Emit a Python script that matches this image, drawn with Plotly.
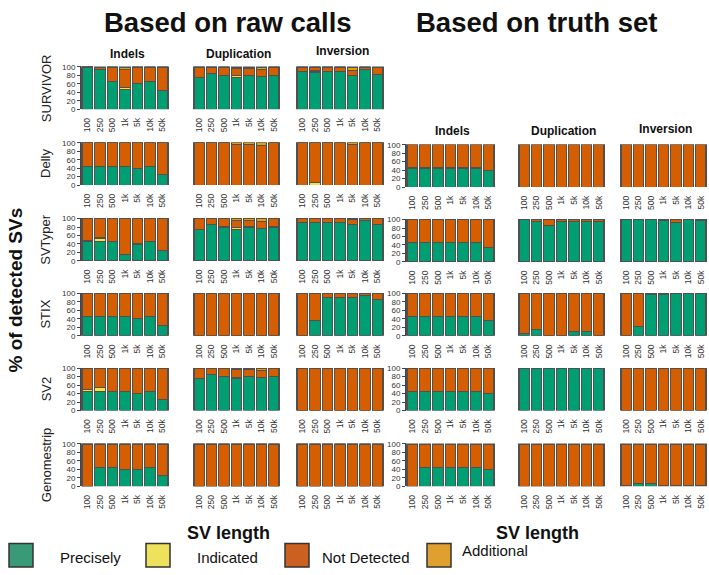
import plotly.graph_objects as go

W, H = 709, 575

lengths = ["100", "250", "500", "1k", "5k", "10k", "50k"]
sv_types = ["Indels", "Duplication", "Inversion"]
raw_callers = ["SURVIVOR", "Delly", "SVTyper", "STIX", "SV2", "Genomestrip"]
truth_callers = ["Delly", "SVTyper", "STIX", "SV2", "Genomestrip"]
categories = ["Precisely", "Indicated", "Not Detected", "Additional"]

# ---- Based on raw calls: [Indels, Duplication, Inversion] per caller (% of SVs)
raw_survivor_precisely = [[100, 93, 65, 47, 60, 65, 45], [75, 85, 80, 75, 80, 77, 80], [90, 88, 90, 90, 80, 95, 82]]
raw_survivor_indicated = [[0, 0, 0, 5, 0, 0, 0], [0, 0, 0, 4, 0, 0, 0], [0, 4, 0, 0, 0, 0, 0]]
raw_survivor_notdet = [[0, 5, 35, 43, 40, 35, 55], [25, 15, 20, 18, 17, 17, 20], [10, 8, 10, 10, 12, 5, 16]]
raw_survivor_additional = [[0, 2, 0, 5, 0, 0, 0], [0, 0, 0, 3, 3, 6, 0], [0, 0, 0, 0, 8, 0, 2]]

raw_delly_precisely = [[45, 45, 45, 45, 40, 45, 25], [0, 0, 0, 0, 0, 0, 0], [0, 0, 0, 0, 0, 0, 0]]
raw_delly_indicated = [[0, 0, 0, 0, 0, 0, 0], [0, 0, 0, 0, 0, 0, 0], [0, 6, 0, 0, 0, 0, 0]]
raw_delly_notdet = [[55, 55, 55, 55, 60, 55, 75], [100, 100, 100, 96, 96, 94, 100], [100, 94, 100, 100, 96, 100, 100]]
raw_delly_additional = [[0, 0, 0, 0, 0, 0, 0], [0, 0, 0, 4, 4, 6, 0], [0, 0, 0, 0, 4, 0, 0]]

raw_svtyper_precisely = [[45, 45, 45, 15, 40, 45, 25], [75, 85, 80, 75, 80, 77, 80], [90, 90, 90, 90, 86, 95, 85]]
raw_svtyper_indicated = [[4, 9, 0, 0, 0, 0, 0], [0, 0, 0, 4, 0, 0, 0], [0, 0, 0, 0, 0, 0, 0]]
raw_svtyper_notdet = [[51, 46, 55, 85, 60, 55, 75], [25, 15, 20, 16, 16, 17, 20], [10, 10, 10, 10, 11, 5, 15]]
raw_svtyper_additional = [[0, 0, 0, 0, 0, 0, 0], [0, 0, 0, 5, 4, 6, 0], [0, 0, 0, 0, 3, 0, 0]]

raw_stix_precisely = [[45, 45, 45, 45, 40, 45, 25], [0, 0, 0, 0, 0, 0, 0], [0, 35, 90, 90, 90, 95, 85]]
raw_stix_indicated = [[0, 0, 0, 0, 0, 0, 0], [0, 0, 0, 0, 0, 0, 0], [0, 0, 0, 0, 0, 0, 0]]
raw_stix_notdet = [[55, 55, 55, 55, 60, 55, 75], [100, 100, 100, 100, 100, 100, 100], [100, 65, 10, 10, 10, 5, 15]]
raw_stix_additional = [[0, 0, 0, 0, 0, 0, 0], [0, 0, 0, 0, 0, 0, 0], [0, 0, 0, 0, 0, 0, 0]]

raw_sv2_precisely = [[45, 45, 45, 45, 40, 45, 25], [75, 85, 80, 75, 80, 77, 80], [0, 0, 0, 0, 0, 0, 0]]
raw_sv2_indicated = [[4, 9, 0, 0, 0, 0, 0], [0, 0, 0, 4, 0, 0, 0], [0, 0, 0, 0, 0, 0, 0]]
raw_sv2_notdet = [[51, 46, 55, 55, 60, 55, 75], [25, 15, 20, 17, 16, 17, 20], [100, 100, 100, 100, 100, 100, 100]]
raw_sv2_additional = [[0, 0, 0, 0, 0, 0, 0], [0, 0, 0, 4, 4, 6, 0], [0, 0, 0, 0, 0, 0, 0]]

raw_genomestrip_precisely = [[0, 45, 45, 40, 40, 45, 25], [0, 0, 0, 0, 0, 0, 0], [0, 0, 0, 0, 0, 0, 0]]
raw_genomestrip_indicated = [[0, 0, 0, 0, 0, 0, 0], [0, 0, 0, 0, 0, 0, 0], [0, 0, 0, 0, 0, 0, 0]]
raw_genomestrip_notdet = [[100, 55, 55, 60, 60, 55, 75], [100, 100, 100, 100, 100, 100, 100], [100, 100, 100, 100, 100, 100, 100]]
raw_genomestrip_additional = [[0, 0, 0, 0, 0, 0, 0], [0, 0, 0, 0, 0, 0, 0], [0, 0, 0, 0, 0, 0, 0]]

# ---- Based on truth set
truth_delly_precisely = [[45, 45, 45, 45, 45, 45, 40], [0, 0, 0, 0, 0, 0, 0], [0, 0, 0, 0, 0, 0, 0]]
truth_delly_notdet = [[55, 55, 55, 55, 55, 55, 60], [100, 100, 100, 100, 100, 100, 100], [100, 100, 100, 100, 100, 100, 100]]
truth_svtyper_precisely = [[45, 45, 45, 45, 45, 45, 35], [100, 95, 85, 95, 95, 95, 95], [100, 100, 100, 97, 93, 100, 97]]
truth_svtyper_notdet = [[55, 55, 55, 55, 55, 55, 65], [0, 5, 15, 5, 5, 5, 5], [0, 0, 0, 3, 7, 0, 3]]
truth_stix_precisely = [[45, 45, 45, 45, 45, 45, 35], [5, 15, 0, 0, 10, 10, 0], [0, 22, 97, 97, 100, 100, 100]]
truth_stix_notdet = [[55, 55, 55, 55, 55, 55, 65], [95, 85, 100, 100, 90, 90, 100], [100, 78, 3, 3, 0, 0, 0]]
truth_sv2_precisely = [[45, 45, 45, 45, 45, 45, 40], [100, 100, 100, 100, 100, 100, 100], [0, 0, 0, 0, 0, 0, 0]]
truth_sv2_notdet = [[55, 55, 55, 55, 55, 55, 60], [0, 0, 0, 0, 0, 0, 0], [100, 100, 100, 100, 100, 100, 100]]
truth_genomestrip_precisely = [[0, 45, 45, 45, 45, 45, 40], [0, 0, 0, 0, 0, 0, 0], [2, 6, 6, 3, 3, 3, 3]]
truth_genomestrip_notdet = [[100, 55, 55, 55, 55, 55, 60], [100, 100, 100, 100, 100, 100, 100], [98, 94, 94, 97, 97, 97, 97]]

bar_colors = {"Precisely": "#009E73", "Indicated": "#F0E442", "Not Detected": "#D55E00", "Additional": "#E69F00"}
legend_colors = {"Precisely": "#3A9A78", "Indicated": "#EEE25C", "Not Detected": "#CC6020", "Additional": "#E0A030"}

raw_data = [
    (raw_survivor_precisely, raw_survivor_indicated, raw_survivor_notdet, raw_survivor_additional),
    (raw_delly_precisely, raw_delly_indicated, raw_delly_notdet, raw_delly_additional),
    (raw_svtyper_precisely, raw_svtyper_indicated, raw_svtyper_notdet, raw_svtyper_additional),
    (raw_stix_precisely, raw_stix_indicated, raw_stix_notdet, raw_stix_additional),
    (raw_sv2_precisely, raw_sv2_indicated, raw_sv2_notdet, raw_sv2_additional),
    (raw_genomestrip_precisely, raw_genomestrip_indicated, raw_genomestrip_notdet, raw_genomestrip_additional),
]
truth_data = [
    (truth_delly_precisely, None, truth_delly_notdet, None),
    (truth_svtyper_precisely, None, truth_svtyper_notdet, None),
    (truth_stix_precisely, None, truth_stix_notdet, None),
    (truth_sv2_precisely, None, truth_sv2_notdet, None),
    (truth_genomestrip_precisely, None, truth_genomestrip_notdet, None),
]

# layout in pixels
raw_cols_x = [(81, 169), (193, 280), (296, 384)]
truth_cols_x = [(406, 495), (518, 605), (620, 707)]
raw_rows_top = [64, 141, 218, 294, 370, 447]
truth_rows_top = [143, 219, 294, 370, 447]
PH = 43

FONT = "Liberation Sans, Arial, sans-serif"
fig = go.Figure()
layout_axes = {}
counter = [0]


def px_x(x):
    return x / W


def px_y(y):
    return 1 - y / H


def add_panel(series, col, x0, x1, ytop, show_y):
    counter[0] += 1
    k = counter[0]
    xname = "x" if k == 1 else f"x{k}"
    yname = "y" if k == 1 else f"y{k}"
    for cat, vals in zip(categories, series):
        if vals is None:
            continue
        fig.add_trace(go.Bar(
            x=lengths, y=vals[col], name=cat, xaxis=xname, yaxis=yname,
            marker=dict(color=bar_colors[cat], line=dict(color="#505050", width=1.1)),
            showlegend=False, hovertemplate=cat + ": %{y}%<extra></extra>",
        ))
    ybottom = ytop + PH
    layout_axes["xaxis" if k == 1 else f"xaxis{k}"] = dict(
        domain=[px_x(x0), px_x(x1)], anchor=yname, type="category",
        range=[-0.5, 6.5], showgrid=False, zeroline=False, showline=False,
        ticks="", tickangle=-90, tickfont=dict(size=8.5, color="#333", family=FONT),
        ticklabelstandoff=6, fixedrange=True,
    )
    ya = dict(
        domain=[px_y(ybottom), px_y(ytop - 0.6)], anchor=xname, range=[0, 101.3],
        showgrid=False, zeroline=False, fixedrange=True,
    )
    if show_y:
        ya.update(showline=True, linecolor="#444", linewidth=1, ticks="outside", ticklen=3,
                  tickcolor="#444", tickvals=[0, 20, 40, 60, 80, 100],
                  tickfont=dict(size=8, color="#333", family=FONT))
    else:
        ya.update(showline=False, showticklabels=False, ticks="")
    layout_axes["yaxis" if k == 1 else f"yaxis{k}"] = ya


for r, series in enumerate(raw_data):
    for c in range(3):
        x0, x1 = raw_cols_x[c]
        add_panel(series, c, x0, x1, raw_rows_top[r], c == 0)

for r, series in enumerate(truth_data):
    for c in range(3):
        x0, x1 = truth_cols_x[c]
        add_panel(series, c, x0, x1, truth_rows_top[r], c == 0)

annotations = []


def text(x, y, s, size, bold=False, angle=0, xanchor="center", color="#111"):
    annotations.append(dict(
        x=px_x(x), y=px_y(y), xref="paper", yref="paper", text=f"<b>{s}</b>" if bold else s,
        showarrow=False, textangle=angle, xanchor=xanchor, yanchor="middle",
        font=dict(size=size, color=color, family=FONT),
    ))


text(228, 19, "Based on raw calls", 27.5, bold=True)
text(536, 19, "Based on truth set", 27.5, bold=True)

for c, t in enumerate(sv_types):
    x0, x1 = raw_cols_x[c]
    text((x0 + x1) / 2 + 2, 51 if c < 2 else 48, t, 12, bold=True)
    x0, x1 = truth_cols_x[c]
    text((x0 + x1) / 2 + 2, 129 if c < 2 else 127, t, 12, bold=True)

for r, name in enumerate(raw_callers):
    text(46, raw_rows_top[r] + PH / 2, name, 13, angle=-90, color="#222")

text(15, 291, "% of detected SVs", 19, bold=True, angle=-90)
text(228, 537, "SV length", 18, bold=True)
text(537, 537, "SV length", 18, bold=True)

shapes = []
legend_boxes = [(9, 58, 562), (146, 195, 562), (285, 320, 562), (427, 460, 555)]
for cat, (bx, tx, ty) in zip(categories, legend_boxes):
    shapes.append(dict(type="rect", xref="paper", yref="paper",
                       x0=px_x(bx), x1=px_x(bx + 24), y0=px_y(572), y1=px_y(548),
                       fillcolor=legend_colors[cat], line=dict(color="#333", width=1.5)))
    text(tx, ty, cat, 15, xanchor="left", color="#111")

fig.update_layout(
    width=W, height=H, margin=dict(l=0, r=0, t=0, b=0),
    paper_bgcolor="white", plot_bgcolor="white",
    barmode="stack", bargap=0.16, hovermode=False,
    annotations=annotations, shapes=shapes,
    font=dict(family=FONT),
    **layout_axes,
)

fig.write_html(
    "out.html",
    config={"displayModeBar": False},
    post_script="document.body.style.margin='0';document.body.style.overflow='hidden';",
)
